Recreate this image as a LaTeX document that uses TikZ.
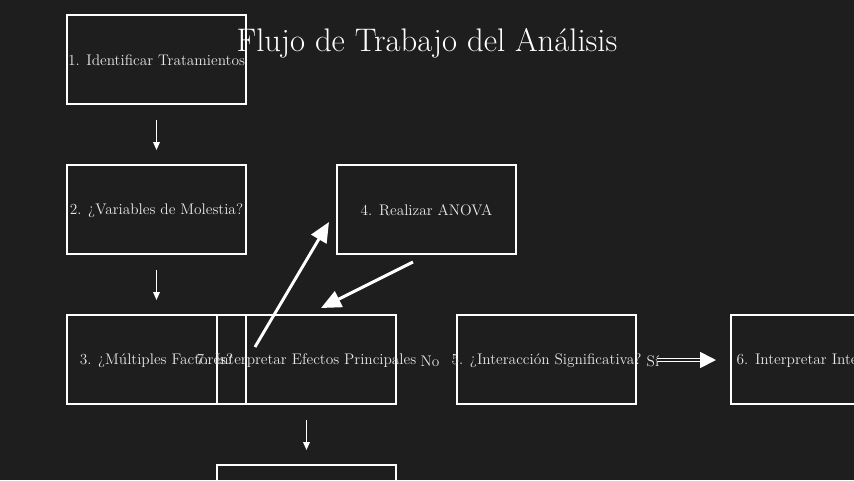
\documentclass[tikz,border=0pt]{standalone}
\usetikzlibrary{arrows.meta,calc}
\definecolor{bg}{RGB}{30,30,30}
\definecolor{txt}{RGB}{232,232,232}
\begin{document}
\begin{tikzpicture}[x=0.75pt,y=-0.75pt,
  box/.style={draw=white,line width=1.5pt,minimum width=134.25pt,minimum height=66.75pt,inner sep=0pt},
  lbl/.style={text=txt,inner sep=0pt,font=\fontsize{11.5}{13}\selectfont},
  small/.style={draw=white,line width=1.1pt,-{Triangle[length=6pt,width=5pt]}},
  big/.style={draw=white,fill=white,line width=2.2pt,-{Triangle[length=15pt,width=13pt]}},
  yes/.style={draw=white,line width=1.3pt,double=bg,double distance=1.1pt,-{Triangle[length=12pt,width=12pt,fill=white]}}]
\fill[bg] (0,0) rectangle (854,480);
\useasboundingbox (0,0) rectangle (854,480);
\clip (0,0) rectangle (854,480);
\node[text=white,inner sep=0pt,font=\fontsize{24.5}{29}\selectfont] (title) at (427,43.5) {Flujo de Trabajo del Análisis};
\node[box] (b1) at (156.5,59.5) {};
\node[box] (b2) at (156.5,209.5) {};
\node[box] (b3) at (156.5,359.5) {};
\node[box] (b7) at (306.5,359.5) {};
\node[box] (b4) at (426.5,209.5) {};
\node[box] (b5) at (546.5,359.5) {};
\node[box] (b6) at (820.5,359.5) {};
\node[box] (b8) at (306.5,509.5) {};
\node[lbl] (t1) at ([yshift=-0.75pt]b1) {1. Identificar Tratamientos};
\node[lbl] (t2) at ([yshift=-0.75pt]b2) {2. ¿Variables de Molestia?};
\node[lbl] (t3) at ([yshift=-0.75pt]b3) {3. ¿Múltiples Factores?};
\node[lbl] (t7) at ([yshift=-0.75pt]b7) {7. Interpretar Efectos Principales};
\node[lbl] (t4) at ([yshift=-0.75pt]b4) {4. Realizar ANOVA};
\node[lbl] (t5) at ([yshift=-0.75pt]b5) {5. ¿Interacción Significativa?};
\node[lbl] (t6) at ([yshift=-0.75pt]b6) {6. Interpretar Interacción};
\node[lbl] (no) at (430,361.5) {No};
\node[lbl] (si) at (653,361) {Sí};
\draw[small] ([yshift=-11.25pt]b1.south) -- ([yshift=10.5pt]b2.north);
\draw[small] ([yshift=-11.25pt]b2.south) -- ([yshift=10.5pt]b3.north);
\draw[small] ([yshift=-11.25pt]b7.south) -- ([yshift=10.5pt]b8.north);
\coordinate (a1s) at (255,347);
\coordinate (a1e) at (329,222);
\coordinate (a2s) at (413,262);
\coordinate (a2e) at (321,308);
\coordinate (a3s) at (657,360);
\coordinate (a3e) at (716,360);
\draw[big] (a1s) -- (a1e);
\draw[big] (a2s) -- (a2e);
\draw[yes] (a3s) -- (a3e);
\end{tikzpicture}
\end{document}
